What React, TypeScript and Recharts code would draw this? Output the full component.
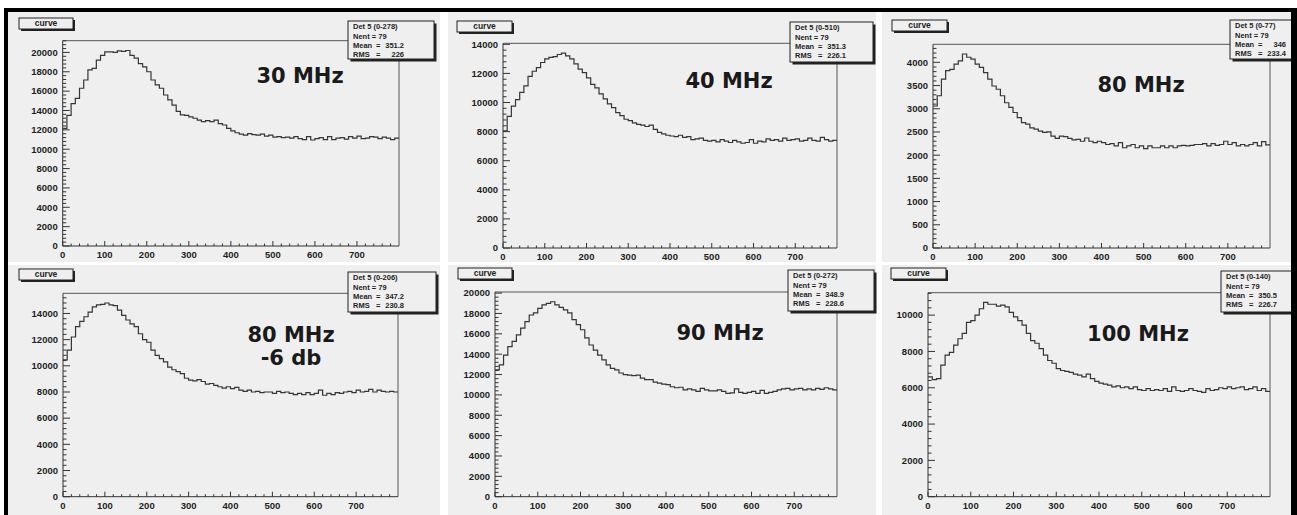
import React from "react";
import { Line, LineChart, ReferenceLine, XAxis, YAxis } from "recharts";

// histogram bins: 80 bins of width 10 starting at 0
const binWidth = 10;
const nBins = 80;
const binLow = Array.from({ length: nBins }, (_, i) => i * binWidth);

const hz30 = [
  12150, 13500, 14700, 15250, 16300, 17150, 18200, 18350, 19200, 19700,
  20050, 20050, 20000, 20150, 20100, 20200, 19700, 19400, 18850, 18500,
  18000, 17150, 16650, 16300, 15600, 15100, 14550, 13900, 13550, 13500,
  13350, 13200, 13000, 12850, 12950, 12850, 13000, 12650, 12500, 12150,
  11900, 11700, 11550, 11450, 11600, 11500, 11450, 11550, 11350, 11450,
  11250, 11300, 11200, 11250, 11150, 11300, 11100, 11000, 11300, 10950,
  11100, 11200, 11000, 11300, 11000, 11150, 11200, 11050, 11300, 11150,
  11350, 11100, 11150, 11300, 11250, 11100, 11250, 11150, 11000, 11150,
];

const hz40 = [
  8050, 9050, 9750, 10200, 10700, 11150, 11800, 12150, 12400, 12750,
  13000, 13100, 13150, 13300, 13400, 13200, 13000, 12650, 12300, 12050,
  11700, 11250, 11000, 10600, 10250, 9900, 9650, 9300, 9100, 8850,
  8750, 8600, 8500, 8450, 8350, 8450, 8150, 7950, 7850, 7750,
  7700, 7650, 7750, 7600, 7650, 7450, 7500, 7550, 7400, 7350,
  7400, 7300, 7450, 7350, 7250, 7400, 7300, 7200, 7250, 7450,
  7200, 7350, 7300, 7500, 7400, 7450, 7350, 7550, 7400, 7450,
  7500, 7350, 7400, 7550, 7400, 7350, 7600, 7450, 7350, 7400,
];

const hz80 = [
  3060, 3280, 3640, 3820, 3850, 3960, 4030, 4180, 4110, 4070,
  3960, 3890, 3780, 3640, 3490, 3420, 3280, 3130, 3030, 2920,
  2810, 2700, 2670, 2590, 2560, 2520, 2490, 2500, 2410, 2360,
  2410, 2400, 2360, 2330, 2340, 2300, 2370, 2300, 2270, 2300,
  2270, 2230, 2250, 2200, 2270, 2160, 2200, 2230, 2160, 2200,
  2140, 2200, 2160, 2160, 2200, 2160, 2200, 2160, 2200, 2210,
  2200, 2210, 2230, 2230, 2250, 2200, 2250, 2210, 2230, 2300,
  2230, 2270, 2200, 2230, 2200, 2230, 2270, 2200, 2290, 2220,
];

const hz80m6 = [
  10450, 11200, 12200, 13000, 13400, 13750, 14100, 14500, 14650, 14700,
  14800, 14650, 14600, 14250, 13850, 13500, 13200, 13000, 12450, 12000,
  11800, 11200, 10800, 10550, 10300, 9900, 9700, 9550, 9400, 9050,
  8900, 8850, 8950, 8800, 8600, 8650, 8500, 8400, 8300, 8400,
  8250, 8350, 8150, 8050, 8150, 8000, 8050, 7950, 8000, 8000,
  7900, 8050, 7950, 8000, 7900, 7800, 7900, 7800, 7950, 7800,
  7900, 8150, 7750, 7900, 7800, 7950, 7900, 8000, 8050, 7950,
  8150, 8000, 8050, 8200, 8000, 8150, 8050, 8000, 8050, 8000,
];

const hz90 = [
  12450, 12950, 13900, 14750, 15250, 15900, 16550, 17200, 17850, 18050,
  18500, 18850, 19000, 19150, 18850, 18600, 18350, 18050, 17400, 16900,
  16400, 15600, 14900, 14400, 13900, 13450, 12950, 12600, 12450, 12150,
  12000, 11950, 11900, 11950, 11650, 11500, 11500, 11250, 11150, 11050,
  11000, 10800, 10700, 10750, 10500, 10600, 10500, 10350, 10650, 10500,
  10400, 10400, 10500, 10350, 10150, 10200, 10600, 10250, 10150, 10250,
  10350, 10150, 10450, 10150, 10250, 10350, 10500, 10600, 10650, 10500,
  10600, 10650, 10500, 10600, 10500, 10650, 10550, 10700, 10600, 10500,
];

const hz100 = [
  6600, 6450, 6500, 7250, 7800, 7950, 8350, 8700, 9000, 9600,
  9700, 10000, 10350, 10700, 10600, 10600, 10500, 10550, 10450, 10150,
  9900, 9700, 9450, 9000, 8600, 8450, 8150, 7800, 7500, 7350,
  7050, 6950, 6900, 6850, 6750, 6700, 6600, 6750, 6500, 6350,
  6250, 6200, 6150, 6050, 6100, 6000, 6050, 5950, 6050, 5900,
  5850, 5950, 5850, 5900, 5850, 5950, 5800, 6050, 5850, 5800,
  5850, 5950, 5850, 5800, 5750, 5950, 5850, 5900, 6000, 5950,
  6050, 5950, 6000, 6050, 5900, 5950, 6050, 5850, 5950, 5800,
];

const series = [hz30, hz40, hz80, hz80m6, hz90, hz100];
const yStep = [2000, 2000, 500, 2000, 2000, 2000];
const labelLines = [["30 MHz"], ["40 MHz"], ["80 MHz"], ["80 MHz", "-6 db"], ["90 MHz"], ["100 MHz"]];
const statTitle = ["Det 5 (0-278)", "Det 5 (0-510)", "Det 5 (0-77)", "Det 5 (0-206)", "Det 5 (0-272)", "Det 5 (0-140)"];
const statNent = [79, 79, 79, 79, 79, 79];
const statMean = ["351.2", "351.3", "346", "347.2", "348.9", "350.5"];
const statRms = ["226", "226.1", "233.4", "230.8", "228.6", "226.7"];

// page layout: panel box, frame (l, t, r, b), title box, stats box, big label anchor
const layout = [
  { panel: [8, 12, 432, 250], frame: [62.7, 40.7, 399, 246], title: [19, 18, 54, 11], stats: [348, 21, 86, 38], text: [300, 83] },
  { panel: [448, 12, 428, 250], frame: [503, 43.3, 837, 248], title: [457, 21, 55, 11], stats: [790, 22, 83, 40], text: [729, 88] },
  { panel: [882, 12, 409, 250], frame: [933, 44.3, 1270, 248], title: [892, 20, 55, 11], stats: [1230, 20, 87, 39], text: [1141, 92] },
  { panel: [8, 265, 432, 250], frame: [63, 293.3, 398, 496.7], title: [19, 269, 54, 11], stats: [348, 272, 88, 40], text: [291, 342] },
  { panel: [448, 265, 428, 250], frame: [495, 292, 837, 496.7], title: [458, 268, 54, 11], stats: [788, 270, 86, 41], text: [720, 340] },
  { panel: [882, 265, 409, 250], frame: [928, 292.7, 1270, 496.7], title: [891, 268, 55, 11], stats: [1221, 271, 87, 41], text: [1138, 341] },
];

const FONT = "'Liberation Sans', Arial, sans-serif";
const INK = "#1e1e1e";
const AXIS = "#333";
const BG = "#efefef";
const YW = 40;
const XH = 12;

const renderXTick = (p: any) => {
  const v = p.payload.value;
  const major = v % 100 === 0;
  return (
    <g>
      <line x1={p.x} x2={p.x} y1={p.y} y2={p.y - (major ? 5 : 2.5)} stroke={AXIS} strokeWidth={1} />
      {major && (
        <text x={p.x} y={p.y + 12} textAnchor="middle" fontSize={9.5} fontWeight="bold" fontFamily={FONT} fill={INK}>
          {v}
        </text>
      )}
    </g>
  );
};

const makeYTick = (step: number) => (p: any) => {
  const v = Math.round(p.payload.value);
  const major = v % step === 0;
  return (
    <g>
      <line x1={p.x} x2={p.x + (major ? 7 : 3.5)} y1={p.y} y2={p.y} stroke={AXIS} strokeWidth={1} />
      {major && (
        <text x={p.x - 5} y={p.y} dy="0.35em" textAnchor="end" fontSize={9.5} fontWeight="bold" fontFamily={FONT} fill={INK}>
          {v}
        </text>
      )}
    </g>
  );
};

function Panel({ idx }: { idx: number }) {
  const L = layout[idx];
  const [px, py, pw, ph] = L.panel;
  const [fl, ft, fr, fb] = L.frame;
  const vals = series[idx];
  const xEnd = nBins * binWidth;
  const data = binLow.map((x, i) => ({ x, v: vals[i] })).concat([{ x: xEnd, v: vals[nBins - 1] }]);
  const ymax = Math.max(...vals) * 1.05;
  const minor = yStep[idx] / 5;
  const yTicks: number[] = [];
  for (let t = 0; t <= ymax; t += minor) yTicks.push(t);
  const xTicks: number[] = [];
  for (let t = 0; t < xEnd; t += 20) xTicks.push(t);
  const margin = { top: ft - py, right: px + pw - fr, bottom: py + ph - fb - XH, left: fl - px - YW };

  return (
    <div style={{ position: "absolute", left: px, top: py, width: pw, height: ph, background: BG }}>
      <LineChart width={pw} height={ph} data={data} margin={margin}>
        <XAxis
          dataKey="x"
          type="number"
          domain={[0, xEnd]}
          ticks={xTicks}
          interval={0}
          tickSize={0}
          tickMargin={0}
          tick={renderXTick}
          height={XH}
          axisLine={{ stroke: AXIS }}
          allowDataOverflow
        />
        <YAxis
          type="number"
          domain={[0, ymax]}
          ticks={yTicks}
          interval={0}
          tickSize={0}
          tickMargin={0}
          tick={makeYTick(yStep[idx])}
          width={YW}
          axisLine={{ stroke: AXIS }}
          allowDataOverflow
        />
        {/* frame top and right edges */}
        <ReferenceLine y={ymax} stroke="#555" strokeWidth={1} />
        <ReferenceLine x={xEnd} stroke="#555" strokeWidth={1} />
        <Line dataKey="v" type="stepAfter" stroke="#353535" strokeWidth={1.2} dot={false} isAnimationActive={false} />
      </LineChart>
    </div>
  );
}

function Overlay() {
  return (
    <svg width={1297} height={515} style={{ position: "absolute", left: 0, top: 0, pointerEvents: "none" }}>
      {layout.map((L, i) => {
        const [tx, ty, tw, th] = L.title;
        const [sx, sy, sw, sh] = L.stats;
        const [cx, cy] = L.text;
        return (
          <g key={i}>
            <rect x={tx + 2} y={ty + 2} width={tw} height={th} fill="#222" />
            <rect x={tx} y={ty} width={tw} height={th} fill={BG} stroke="#222" strokeWidth={1} />
            <text x={tx + tw / 2} y={ty + th / 2} dy="0.35em" textAnchor="middle" fontSize={8.5} fontWeight="bold" fontFamily={FONT} fill={INK}>
              curve
            </text>
            <rect x={sx + 2.5} y={sy + 2.5} width={sw} height={sh} fill="#222" />
            <rect x={sx} y={sy} width={sw} height={sh} fill={BG} stroke="#222" strokeWidth={1} />
            <g fontSize={7.5} fontWeight="bold" fontFamily={FONT} fill={INK}>
              <text x={sx + 5} y={sy + 8}>{statTitle[i]}</text>
              <text x={sx + 5} y={sy + 17.5}>{`Nent = ${statNent[i]}`}</text>
              <text x={sx + 5} y={sy + 27}>Mean</text>
              <text x={sx + 28} y={sy + 27}>=</text>
              <text x={sx + 56} y={sy + 27} textAnchor="end">{statMean[i]}</text>
              <text x={sx + 5} y={sy + 36}>RMS</text>
              <text x={sx + 28} y={sy + 36}>=</text>
              <text x={sx + 56} y={sy + 36} textAnchor="end">{statRms[i]}</text>
            </g>
            {labelLines[i].map((s, k) => (
              <text key={k} x={cx} y={cy + k * 23} textAnchor="middle" fontSize={21} fontWeight="bold" fontFamily="'DejaVu Sans', sans-serif" fill="#1a1a1a">
                {s}
              </text>
            ))}
          </g>
        );
      })}
      {/* outer black border (top, left, right) */}
      <rect x={4} y={8} width={1293} height={4} fill="#000" />
      <rect x={4} y={8} width={4} height={507} fill="#000" />
      <rect x={1291} y={8} width={6} height={507} fill="#000" />
    </svg>
  );
}

export default function App() {
  return (
    <div style={{ position: "absolute", left: 0, top: 0, width: 1297, height: 515, background: "#fff", overflow: "hidden" }}>
      {layout.map((_, i) => (
        <Panel key={i} idx={i} />
      ))}
      <Overlay />
    </div>
  );
}
